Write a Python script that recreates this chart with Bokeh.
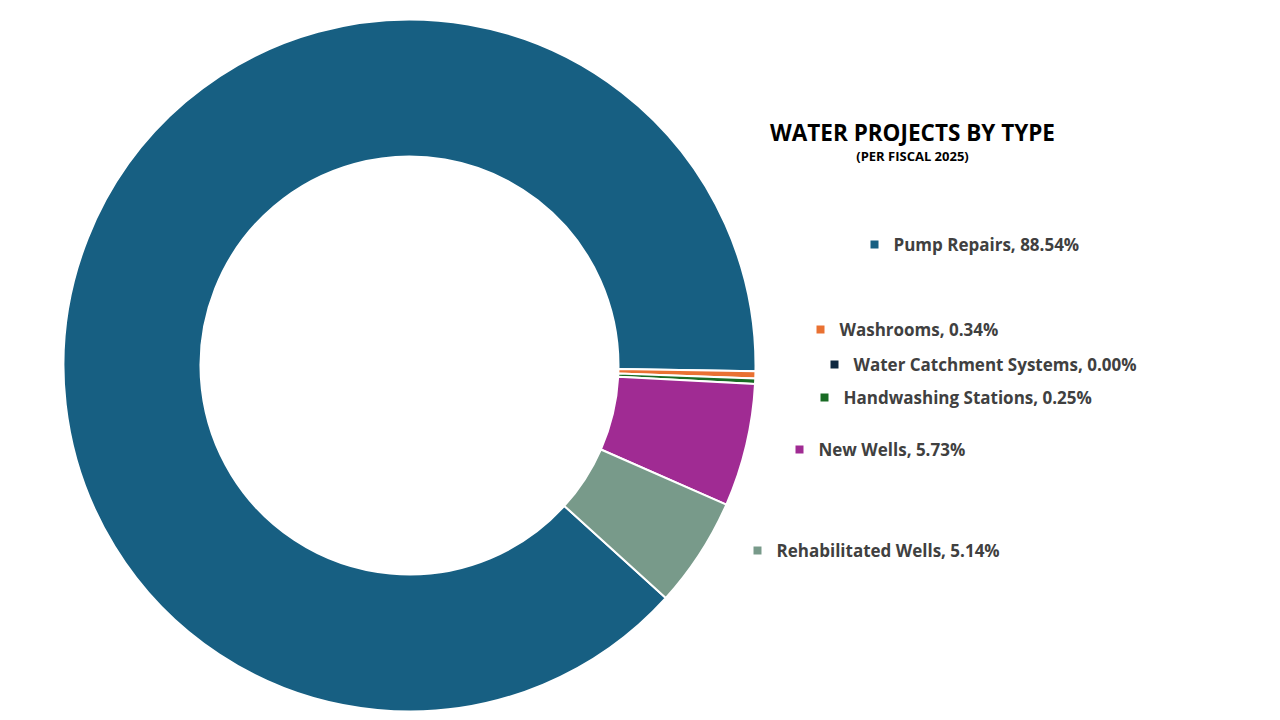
from math import pi
from bokeh.plotting import figure
from bokeh.models import Range1d, ColumnDataSource
from bokeh.core.properties import value
from bokeh.embed import file_html
from bokeh.resources import INLINE

# ---- data ----
categories = ["Pump Repairs", "Washrooms", "Water Catchment Systems",
              "Handwashing Stations", "New Wells", "Rehabilitated Wells"]
shares = [88.54, 0.34, 0.00, 0.25, 5.73, 5.14]
colors = ["#175F82", "#E97132", "#0E2841", "#196B24", "#A02B93", "#789A8A"]

# ---- layout (page px) ----
W, H = 1272, 712
cx, cy = 409, 720 - 365
r_out, r_in = 346, 209
first_slice_deg = -42.2  # start of the first slice, measured from 3 o'clock (math angle)

total = sum(shares)
starts, ends = [], []
a = first_slice_deg * pi / 180
for s in shares:
    starts.append(a)
    a = a - s / total * 2 * pi
    ends.append(a)

keep = [i for i, s in enumerate(shares) if s > 0]
src = ColumnDataSource(dict(cat=[categories[i] for i in keep],
                            start=[starts[i] for i in keep],
                            end=[ends[i] for i in keep],
                            color=[colors[i] for i in keep]))

p = figure(width=W, height=H, output_backend="svg", toolbar_location=None,
           x_range=Range1d(0, W), y_range=Range1d(720 - H, 720),
           min_border=0, outline_line_color=None)
p.axis.visible = False
p.grid.visible = False

p.annular_wedge(x=cx, y=cy, inner_radius=r_in, outer_radius=r_out,
                start_angle="start", end_angle="end", direction="clock",
                fill_color="color", line_color="white", line_width=2, source=src)

# labels
FONT = value("Open Sans")
label_text_x = [893, 839, 853, 843, 818, 776]
label_y = [244, 329, 364, 397, 449, 550]
lab = ColumnDataSource(dict(
    tx=label_text_x,
    mx=[x - 19 for x in label_text_x],
    y=[720 - y for y in label_y],
    txt=[f"{c}, {v:.2f}%" for c, v in zip(categories, shares)],
    color=colors))
p.scatter(x="mx", y="y", marker="square", size=8, fill_color="color",
          line_color=None, source=lab)
p.text(x="tx", y="y", text="txt", text_font=FONT, text_font_style="bold",
       text_font_size="17px", text_color="#404040", text_baseline="middle",
       text_align="left", source=lab)

p.text(x=[912], y=[720 - 132], text=["WATER PROJECTS BY TYPE"],
       text_font=FONT, text_font_style="bold", text_font_size="22.5px",
       text_color="#000000", text_align="center", text_baseline="middle")
p.text(x=[912], y=[720 - 155], text=["(PER FISCAL 2025)"],
       text_font=FONT, text_font_style="bold", text_font_size="13px",
       text_color="#000000", text_align="center", text_baseline="middle")

open("out.html", "w").write(file_html(p, INLINE))
